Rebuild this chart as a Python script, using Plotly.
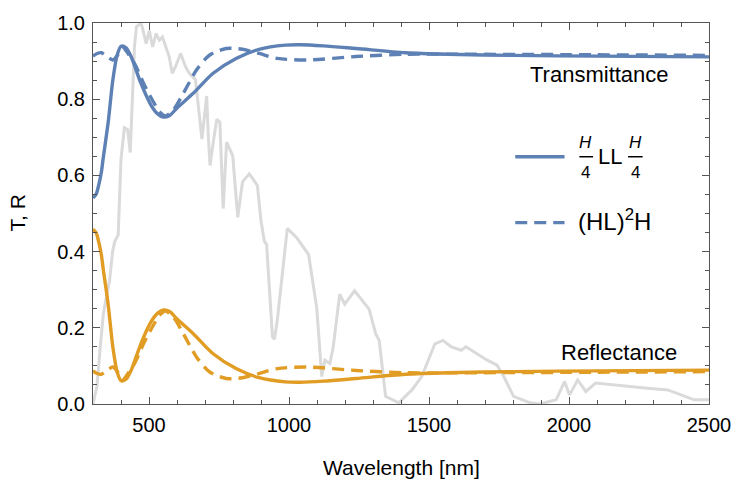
import plotly.graph_objects as go

# ---------------- data ----------------
# Solid: (H/4) L L (H/4)
wl_T1 = [300, 312, 322, 330, 336, 354, 371, 386, 400, 418, 436, 471, 506, 530, 551, 575, 600,
         659, 729, 811, 893, 987, 1040, 1123, 1240, 1416, 1567, 1800, 2100, 2500]
T1 = [0.541, 0.552, 0.580, 0.609, 0.643, 0.738, 0.851, 0.915, 0.939, 0.935, 0.912, 0.842, 0.786,
      0.762, 0.753, 0.758, 0.777, 0.816, 0.868, 0.907, 0.931, 0.942, 0.943, 0.940, 0.933, 0.922,
      0.918, 0.915, 0.913, 0.911]
R1 = [0.459, 0.448, 0.420, 0.391, 0.357, 0.262, 0.149, 0.085, 0.061, 0.065, 0.088, 0.158, 0.214,
      0.238, 0.247, 0.242, 0.223, 0.184, 0.132, 0.093, 0.069, 0.058, 0.057, 0.060, 0.067, 0.078,
      0.082, 0.085, 0.087, 0.089]

# Dashed: (HL)^2 H
wl_T2 = [300, 315, 330, 350, 371, 390, 406, 420, 448, 483, 518, 540, 559, 588, 623, 670, 717,
         776, 834, 893, 959, 1064, 1240, 1416, 1600, 2000, 2500]
T2 = [0.913, 0.920, 0.922, 0.912, 0.903, 0.918, 0.937, 0.925, 0.894, 0.838, 0.790, 0.765, 0.756,
      0.773, 0.816, 0.877, 0.916, 0.933, 0.931, 0.920, 0.907, 0.903, 0.912, 0.918, 0.918, 0.917,
      0.915]
R2 = [0.087, 0.080, 0.078, 0.088, 0.097, 0.082, 0.063, 0.075, 0.106, 0.162, 0.210, 0.235, 0.244,
      0.227, 0.184, 0.123, 0.084, 0.067, 0.069, 0.080, 0.093, 0.097, 0.088, 0.082, 0.082, 0.083,
      0.085]

# Gray background spectrum (normalized)
wl_S = [300, 314, 326, 337, 350, 359, 370, 378, 390, 400, 412, 424, 433, 448, 455, 472, 484, 490,
        501, 513, 525, 537, 548, 560, 572, 583, 595, 613, 630, 642, 666, 689, 706, 712, 718, 730,
        742, 753, 765, 777, 799, 817, 834, 858, 887, 900, 912, 920, 941, 948, 958, 994, 1029, 1070,
        1099, 1117, 1128, 1146, 1158, 1181, 1199, 1234, 1286, 1310, 1322, 1345, 1392, 1439, 1474,
        1521, 1550, 1580, 1615, 1632, 1673, 1708, 1743, 1767, 1802, 1861, 1896, 1954, 1984, 2002,
        2031, 2060, 2095, 2154, 2212, 2271, 2353, 2400, 2447, 2500]
S = [0.0, 0.046, 0.150, 0.237, 0.290, 0.323, 0.400, 0.427, 0.444, 0.643, 0.725, 0.720, 0.660,
     0.937, 0.990, 1.0, 0.964, 0.946, 0.980, 0.937, 0.972, 0.955, 0.963, 0.940, 0.912, 0.868,
     0.886, 0.920, 0.886, 0.870, 0.851, 0.695, 0.808, 0.700, 0.626, 0.690, 0.747, 0.740, 0.513,
     0.687, 0.652, 0.490, 0.583, 0.604, 0.574, 0.480, 0.427, 0.419, 0.176, 0.170, 0.219, 0.461,
     0.435, 0.392, 0.253, 0.072, 0.115, 0.106, 0.150, 0.288, 0.262, 0.297, 0.249, 0.184, 0.167,
     0.020, 0.003, 0.037, 0.072, 0.158, 0.167, 0.150, 0.141, 0.150, 0.132, 0.115, 0.102, 0.072,
     0.020, 0.003, 0.0, 0.011, 0.059, 0.024, 0.063, 0.033, 0.055, 0.050, 0.046, 0.042, 0.037,
     0.024, 0.011, 0.011]

x_ticks = [500, 1000, 1500, 2000, 2500]
y_ticks = [0.0, 0.2, 0.4, 0.6, 0.8, 1.0]

BLUE = "#5E81B5"
ORANGE = "#E19C24"
GRAY = "#DADADA"
FRAME = "#555555"
FONT = "Liberation Sans"
LW = 3.4
DASH = "12px,7px"

fig = go.Figure()
fig.add_trace(go.Scatter(x=wl_S, y=S, mode="lines", line=dict(color=GRAY, width=3), showlegend=False))
fig.add_trace(go.Scatter(x=wl_T1, y=T1, mode="lines", line=dict(color=BLUE, width=LW, shape="spline", smoothing=0.8), showlegend=False))
fig.add_trace(go.Scatter(x=wl_T1, y=R1, mode="lines", line=dict(color=ORANGE, width=LW, shape="spline", smoothing=0.8), showlegend=False))
fig.add_trace(go.Scatter(x=wl_T2, y=T2, mode="lines", line=dict(color=BLUE, width=LW, dash=DASH, shape="spline", smoothing=0.8), showlegend=False))
fig.add_trace(go.Scatter(x=wl_T2, y=R2, mode="lines", line=dict(color=ORANGE, width=LW, dash=DASH, shape="spline", smoothing=0.8), showlegend=False))

axis_common = dict(
    showline=True, linecolor=FRAME, linewidth=1, mirror="allticks",
    ticks="inside", ticklen=7, tickwidth=1, tickcolor=FRAME,
    showgrid=False, zeroline=False,
    tickfont=dict(family=FONT, size=20, color="#000000"),
)

fig.update_xaxes(range=[300, 2500], tickmode="array", tickvals=x_ticks,
                 ticktext=[str(v) for v in x_ticks], ticklabelstandoff=3,
                 minor=dict(tickmode="linear", tick0=0, dtick=100, ticks="inside",
                            ticklen=4, tickcolor=FRAME, tickwidth=1),
                 **axis_common)
fig.update_yaxes(range=[0, 1], tickmode="array", tickvals=y_ticks,
                 ticktext=[f"{v:.1f}" for v in y_ticks], ticklabelstandoff=3,
                 minor=dict(tickmode="linear", tick0=0, dtick=0.05, ticks="inside",
                            ticklen=4, tickcolor=FRAME, tickwidth=1),
                 **axis_common)

ann = []
# axis titles
ann.append(dict(text="Wavelength [nm]", xref="paper", yref="paper", x=0.5, y=0, yshift=-63,
                xanchor="center", yanchor="middle", showarrow=False,
                font=dict(family=FONT, size=21, color="#000")))
ann.append(dict(text="T, R", xref="paper", yref="paper", x=0, y=0.5, xshift=-76, textangle=-90,
                xanchor="center", yanchor="middle", showarrow=False,
                font=dict(family=FONT, size=21, color="#000")))
# curve labels
ann.append(dict(text="Transmittance", x=2110, y=0.866, xref="x", yref="y", showarrow=False,
                xanchor="center", yanchor="middle", font=dict(family=FONT, size=22, color="#000")))
ann.append(dict(text="Reflectance", x=2177, y=0.136, xref="x", yref="y", showarrow=False,
                xanchor="center", yanchor="middle", font=dict(family=FONT, size=22, color="#000")))
# legend text: fraction H/4 LL H/4
for xc in (2060, 2236):
    ann.append(dict(text="<i>H</i>", x=xc, y=0.686, xref="x", yref="y", showarrow=False,
                    xanchor="center", yanchor="middle", font=dict(family=FONT, size=17, color="#000")))
    ann.append(dict(text="4", x=xc, y=0.607, xref="x", yref="y", showarrow=False,
                    xanchor="center", yanchor="middle", font=dict(family=FONT, size=17, color="#000")))
ann.append(dict(text="LL", x=2146, y=0.649, xref="x", yref="y", showarrow=False,
                xanchor="center", yanchor="middle", font=dict(family=FONT, size=22, color="#000")))
ann.append(dict(text="(HL)<sup>2</sup>H", x=2025, y=0.483, xref="x", yref="y", showarrow=False,
                xanchor="left", yanchor="middle", font=dict(family=FONT, size=24, color="#000")))
fig.update_layout(annotations=ann)

shapes = []
# legend samples
shapes.append(dict(type="line", xref="x", yref="y", x0=1808, x1=1984, y0=0.649, y1=0.649,
                   line=dict(color=BLUE, width=LW)))
shapes.append(dict(type="line", xref="x", yref="y", x0=1808, x1=1984, y0=0.476, y1=0.476,
                   line=dict(color=BLUE, width=LW, dash=DASH)))
# fraction bars
for x0, x1 in ((2037, 2086), (2211, 2263)):
    shapes.append(dict(type="line", xref="x", yref="y", x0=x0, x1=x1, y0=0.649, y1=0.649,
                       line=dict(color="#000", width=1.5)))
fig.update_layout(shapes=shapes)

fig.update_layout(
    width=743, height=480,
    margin=dict(l=93, r=24, t=19, b=76, pad=0),
    paper_bgcolor="white", plot_bgcolor="white",
    showlegend=False,
    font=dict(family=FONT, color="#000"),
)

fig.write_html("out.html")
